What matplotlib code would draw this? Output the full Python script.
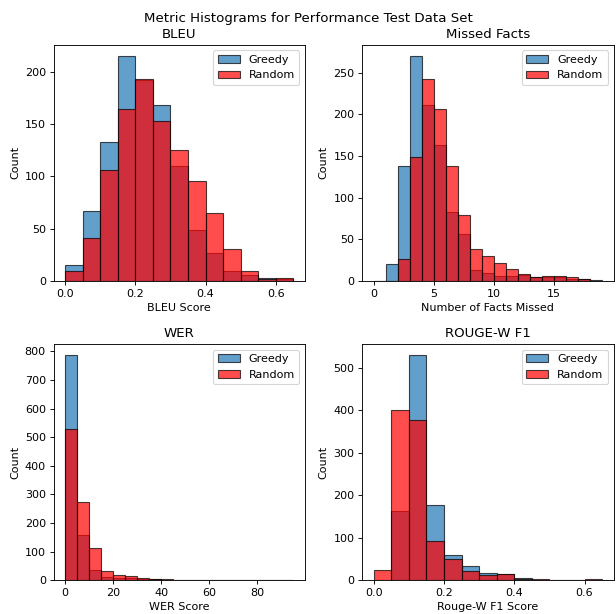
import numpy as np
import matplotlib
matplotlib.use('Agg')
import matplotlib.pyplot as plt

# BLEU: bins of 0.05 from 0 to 0.65
bleu_edges = np.round(np.arange(0, 0.651, 0.05), 2)
bleu_greedy = [15, 67, 133, 215, 192, 168, 110, 49, 27, 10, 6, 3, 2]
bleu_random = [10, 41, 106, 164, 193, 153, 125, 96, 65, 31, 10, 2, 3]

# Missed facts: integer bins 0..19
facts_edges = np.arange(0, 20, 1)
facts_greedy = [0, 21, 138, 270, 211, 163, 83, 57, 13, 10, 6, 6, 7, 5, 5, 5, 2, 2, 1]
facts_random = [0, 0, 27, 149, 242, 206, 138, 79, 38, 30, 22, 15, 8, 5, 6, 6, 5, 2, 0]

# WER: bins of 5 from 0 to 95
wer_edges = np.arange(0, 96, 5)
wer_greedy = [786, 159, 37, 10, 8, 7, 4, 3, 2, 1, 0, 1, 1, 2, 0, 0, 0, 0, 0]
wer_random = [530, 272, 112, 31, 20, 15, 8, 4, 4, 2, 1, 0, 2, 0, 0, 0, 0, 2, 0]

# ROUGE-W F1: bins of 0.05 from 0 to 0.65
rouge_edges = np.round(np.arange(0, 0.651, 0.05), 2)
rouge_greedy = [0, 162, 530, 177, 59, 34, 17, 15, 5, 1, 1, 1, 0]
rouge_random = [23, 400, 377, 93, 50, 22, 13, 15, 3, 3, 1, 0, 3]

panels = [
    ('BLEU', 'BLEU Score', bleu_edges, bleu_greedy, bleu_random),
    ('Missed Facts', 'Number of Facts Missed', facts_edges, facts_greedy, facts_random),
    ('WER', 'WER Score', wer_edges, wer_greedy, wer_random),
    ('ROUGE-W F1', 'Rouge-W F1 Score', rouge_edges, rouge_greedy, rouge_random),
]

dpi = 80
fig, axes = plt.subplots(2, 2, figsize=(616 / dpi, 614 / dpi), dpi=dpi)
fig.subplots_adjust(left=0.087, right=0.996, top=0.927, bottom=0.055,
                    wspace=0.228, hspace=0.267)
fig.suptitle('Metric Histograms for Performance Test Data Set', y=0.98)

for ax, (title, xlabel, edges, greedy, rand) in zip(axes.flat, panels):
    centers = (edges[:-1] + edges[1:]) / 2
    ax.hist(centers, bins=edges, weights=greedy, color='C0', alpha=0.7,
            edgecolor='black', label='Greedy')
    ax.hist(centers, bins=edges, weights=rand, color='red', alpha=0.7,
            edgecolor='black', label='Random')
    ax.set_title(title)
    ax.set_xlabel(xlabel)
    ax.set_ylabel('Count')
    ax.legend(loc='upper right')

fig.savefig('out.png', dpi=dpi)
